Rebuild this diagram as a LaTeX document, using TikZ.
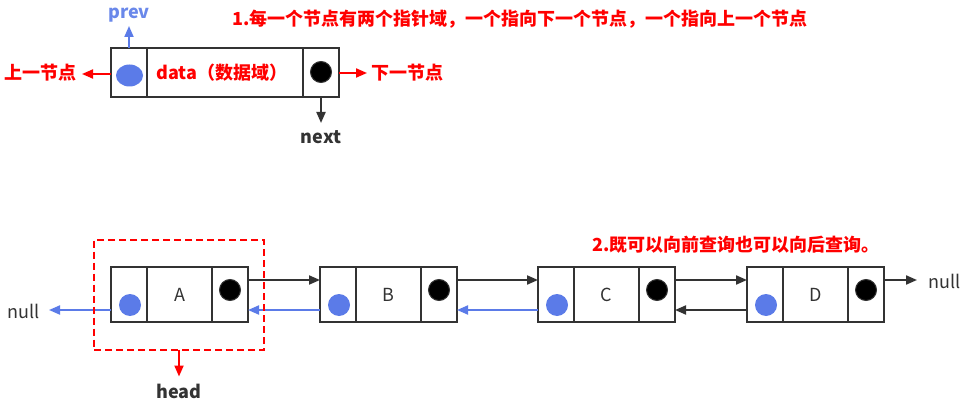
\documentclass[tikz,border=0pt]{standalone}
\usepackage{fontspec}
\setmainfont{Noto Sans CJK SC}
\usetikzlibrary{arrows.meta,shapes.geometric}
\definecolor{dotblue}{HTML}{5B7BE8}
\definecolor{prevblue}{HTML}{6A88EA}
\definecolor{dk}{HTML}{333333}
\definecolor{rd}{HTML}{FF0000}
\begin{document}
\begin{tikzpicture}[x=1pt,y=-1pt,
  cellbox/.style={draw=dk, line width=2pt, inner sep=0pt, outer sep=0pt, anchor=west},
  topcell/.style={cellbox, minimum height=49pt},
  botcell/.style={cellbox, minimum height=55pt},
  bluedot/.style={circle, fill=dotblue, inner sep=0pt, outer sep=0pt, minimum size=22pt},
  blueoval/.style={ellipse, fill=dotblue, inner sep=0pt, outer sep=0pt, minimum width=27pt, minimum height=22pt},
  blackdot/.style={circle, fill=black, draw=dk, line width=1pt, inner sep=0pt, minimum size=21pt},
  tip/.style={-{Triangle[length=11pt,width=9pt]}},
  fwd/.style={draw=dk, line width=2pt, tip},
  bwd/.style={draw=dotblue, line width=2pt, tip},
  redarr/.style={draw=rd, line width=2pt, tip},
  bluearr/.style={draw=dotblue, line width=2pt, tip},
  redtxt/.style={text=rd, font=\fontsize{18}{21}\selectfont\bfseries, inner sep=0pt},
  dktxt/.style={text=dk, font=\fontsize{18}{21}\selectfont\bfseries, inner sep=0pt},
  plaintxt/.style={text=dk, font=\fontsize{18}{21}\selectfont, inner sep=0pt}
]
\useasboundingbox (0,0) rectangle (971,406);

% ---------- top explanatory node ----------
\node[topcell, minimum width=36pt] (tp) at (111,72.5) {};
\node[topcell, minimum width=156pt] (td) at (tp.east) {};
\node[topcell, minimum width=36pt] (tn) at (td.east) {};
\node[blueoval] (tb) at ([xshift=0.5pt,yshift=-3pt]tp.center) {};
\node[blackdot] (tk) at ([xshift=0pt,yshift=0.5pt]tn.center) {};
\node[redtxt] (tdt) at ([xshift=-3pt]td.center) {data（数据域）};

\node[text=prevblue, font=\fontsize{18}{21}\selectfont\bfseries, inner sep=0pt] (prev) at (129,15) {prev};
\coordinate (prevtip) at ([yshift=22pt]tp.north);
\draw[bluearr] (tp.north) -- (prevtip);

\node[redtxt] (shang) at (40.5,73) {上一节点};
\coordinate (shangtip) at (82,74);
\draw[redarr] ([yshift=-1.5pt]tp.west) -- (shangtip);

\node[redtxt] (xia) at (407,73) {下一节点};
\coordinate (xiatip) at (367,73);
\draw[redarr] ([yshift=-0.5pt]tn.east) -- (xiatip);

\coordinate (nexttip) at ([yshift=-26pt]tn.south);
\draw[fwd] (tn.south) -- (nexttip);
\node[dktxt] (next) at (321,137) {next};

\node[redtxt] (title1) at (520,19) {1.每一个节点有两个指针域，一个指向下一个节点，一个指向上一个节点};

% ---------- bottom list ----------
\foreach \n/\x in {A/111,B/320,C/538,D/747}{
  \node[botcell, minimum width=36pt] (\n p) at (\x,294.5) {};
  \node[botcell, minimum width=65pt] (\n d) at (\n p.east) {};
  \node[botcell, minimum width=36pt] (\n n) at (\n d.east) {};
  \node[bluedot] (\n b) at ([xshift=1pt,yshift=-10.5pt]\n p.center) {};
  \node[blackdot] (\n k) at ([yshift=4.5pt]\n n.center) {};
  \node[plaintxt] (\n t) at (\n d.center) {\n};
}

% forward (next) links
\draw[fwd] ([yshift=14.5pt]An.east) -- ([yshift=14.5pt]Bp.west);
\draw[fwd] ([yshift=14.5pt]Bn.east) -- ([yshift=14.5pt]Cp.west);
\draw[fwd] ([yshift=14.5pt]Cn.east) -- ([yshift=14.5pt]Dp.west);
\coordinate (nullRtip) at (917,280);
\draw[fwd] ([yshift=14.5pt]Dn.east) -- (nullRtip);
\node[plaintxt] (nullR) at (945,281) {null};

% backward (prev) links
\draw[bwd] ([yshift=-15.5pt]Bp.west) -- ([yshift=-15.5pt]An.east);
\draw[bwd] ([yshift=-15.5pt]Cp.west) -- ([yshift=-15.5pt]Bn.east);
\draw[fwd] ([yshift=-15.5pt]Dp.west) -- ([yshift=-15.5pt]Cn.east);
\coordinate (nullLtip) at (49,310);
\draw[bwd] ([yshift=-15.5pt]Ap.west) -- (nullLtip);
\node[plaintxt] (nullL) at (24,311) {null};

% head marker
\node[draw=rd, dash pattern=on 7pt off 4pt, line width=2pt, outer sep=0pt, minimum width=170pt, minimum height=110pt, inner sep=0pt] (headbox) at (179,294.5) {};
\coordinate (headtip) at ([yshift=-27pt]headbox.south);
\draw[redarr] (headbox.south) -- (headtip);
\node[dktxt] (head) at (179,391) {head};

\node[redtxt] (title2) at (736,245) {2.既可以向前查询也可以向后查询。};
\end{tikzpicture}
\end{document}
